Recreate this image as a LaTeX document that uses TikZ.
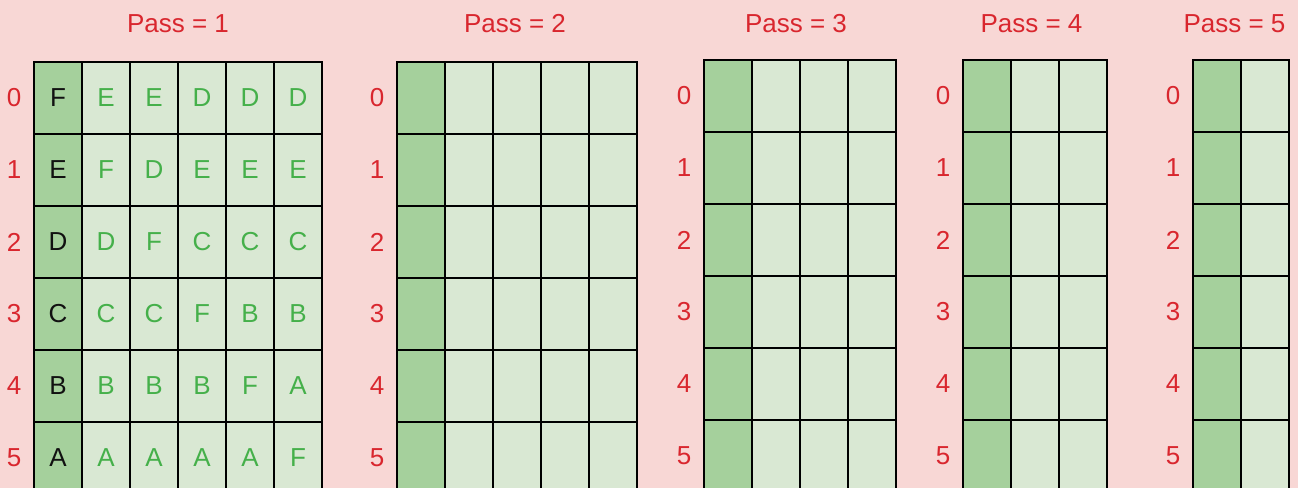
\documentclass[tikz,border=0pt]{standalone}
\usepackage{fontspec}
\setmainfont{Liberation Sans}
\usetikzlibrary{positioning}
\definecolor{psPink}{HTML}{F8D7D5}
\definecolor{psRed}{HTML}{D9262E}
\definecolor{psDeep}{HTML}{A5D09C}
\definecolor{psPale}{HTML}{D9E8D3}
\definecolor{psLeaf}{HTML}{45B04A}
\definecolor{psInk}{HTML}{111111}
\tikzset{
  pscell/.style={
    draw=black,
    fill=#1,
    line width=1.9pt,
    minimum width=36pt,
    minimum height=54pt,
    inner sep=0pt,
    font=\fontsize{19.5}{22}\selectfont
  },
  pslabel/.style={
    text=psRed,
    inner sep=0pt,
    font=\fontsize{19.5}{22}\selectfont
  }
}

\begin{document}
\begin{tikzpicture}[x=0.75pt, y=-0.75pt]
  \fill[psPink] (0,0) rectangle (1298,488);
  \useasboundingbox (0,0) rectangle (1298,488);
  \clip (0,0) rectangle (1298,488);

  % first pass, with the letters
  \node[pslabel] (title1) at (178,23.5) {Pass = 1};
  \foreach \r/\row in {0/{F,E,E,D,D,D}, 1/{E,F,D,E,E,E}, 2/{D,D,F,C,C,C},
                       3/{C,C,C,F,B,B}, 4/{B,B,B,B,F,A}, 5/{A,A,A,A,A,F}}{
    \node[pslabel] (key1-\r) at (14,98+72*\r) {\r};
    \foreach \ch [count=\c from 0] in \row {
      \ifnum\c=0
        \node[pscell=psDeep, text=psInk] (cell1-\r-\c) at (58+48*\c,98+72*\r) {\ch};
      \else
        \node[pscell=psPale, text=psLeaf] (cell1-\r-\c) at (58+48*\c,98+72*\r) {\ch};
      \fi
    }
  }

  % later passes, empty grids
  \foreach \g/\L/\T/\n/\mid in {2/397/62/4/515, 3/704/60/3/796, 4/963/60/2/1031.5, 5/1193/60/1/1234.5}{
    \node[pslabel] (title\g) at (\mid,23.5) {Pass = \g};
    \foreach \r in {0,...,5}{
      \node[pslabel] (key\g-\r) at (\L-20,\T+36+72*\r) {\r};
      \foreach \c in {0,...,\n}{
        \ifnum\c=0 \def\tone{psDeep}\else\def\tone{psPale}\fi
        \node[pscell=\tone] (cell\g-\r-\c) at (\L+24+48*\c,\T+36+72*\r) {};
      }
    }
  }
\end{tikzpicture}
\end{document}
